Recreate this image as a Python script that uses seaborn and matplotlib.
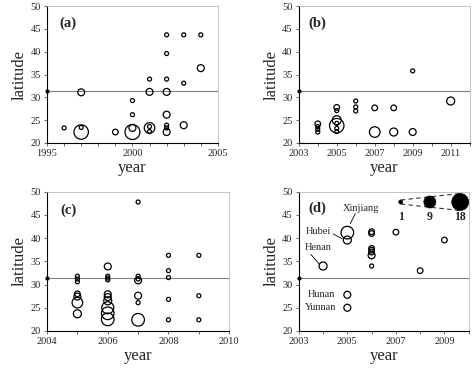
import numpy as np
import pandas as pd
import matplotlib
matplotlib.use("Agg")
import matplotlib.pyplot as plt
import seaborn as sns

# ---- data: (year, latitude, number of cases) per panel ----
a_year = [1996, 1997, 1997, 1997, 1999, 2000, 2000, 2000, 2000,
          2001, 2001, 2001, 2001, 2001,
          2002, 2002, 2002, 2002, 2002, 2002, 2002, 2002,
          2003, 2003, 2003, 2004, 2004]
a_lat = [23.3, 31.1, 23.4, 22.4, 22.4, 29.3, 26.2, 23.3, 22.4,
         34.0, 31.2, 23.3, 23.6, 22.5,
         43.7, 39.6, 34.0, 31.2, 26.2, 23.9, 23.3, 22.4,
         43.7, 33.1, 23.9, 43.7, 36.4]
a_n = [1, 3, 1, 13, 2, 1, 1, 3, 14,
       1, 3, 7, 1, 1,
       1, 1, 1, 3, 3, 1, 1, 3,
       1, 1, 3, 1, 3]

b_year = [2004, 2004, 2004, 2004,
          2005, 2005, 2005, 2005, 2005, 2005, 2005,
          2006, 2006, 2006, 2007, 2007, 2008, 2008, 2009, 2009, 2011]
b_lat = [24.2, 23.6, 23.0, 22.4,
         27.8, 27.1, 25.0, 23.8, 24.3, 23.2, 22.5,
         29.2, 27.9, 27.0, 27.7, 22.4, 27.7, 22.4, 35.8, 22.4, 29.2]
b_n = [2, 1, 1, 1,
       2, 1, 5, 13, 1, 1, 1,
       1, 1, 1, 2, 7, 2, 4, 1, 3, 4]

c_year = [2005, 2005, 2005, 2005, 2005, 2005, 2005,
          2006, 2006, 2006, 2006, 2006, 2006, 2006, 2006, 2006, 2006,
          2007, 2007, 2007, 2007, 2007, 2007, 2007,
          2008, 2008, 2008, 2008, 2008, 2009, 2009, 2009]
c_lat = [31.8, 31.2, 30.6, 28.0, 27.4, 26.1, 23.7,
         33.9, 31.8, 31.4, 31.0, 27.9, 27.3, 26.5, 25.0, 23.8, 22.5,
         47.8, 31.8, 31.2, 30.9, 27.6, 26.1, 22.4,
         36.3, 33.0, 31.5, 26.8, 22.4, 36.3, 27.6, 22.4]
c_n = [1, 1, 1, 2, 3, 7, 4,
       3, 1, 1, 1, 3, 3, 4, 9, 10, 10,
       1, 1, 1, 3, 3, 1, 10,
       1, 1, 1, 1, 1, 1, 1, 1]

d_year = [2004, 2005, 2005, 2005, 2005,
          2006, 2006, 2006, 2006, 2006, 2006, 2006, 2007, 2008, 2009]
d_lat = [34.0, 41.2, 39.6, 27.8, 25.0,
         41.4, 41.0, 37.8, 37.4, 37.0, 36.3, 34.0, 41.3, 33.0, 39.6]
d_n = [4, 10, 4, 3, 3,
       2, 2, 2, 2, 2, 3, 1, 2, 2, 2]

# province labels in (d): text, text position, alignment, leader line
prov_names = ["Xinjiang", "Hubei", "Henan", "Hunan", "Yunnan"]
prov_text_x = [2005.55, 2003.8, 2003.8, 2004.5, 2004.55]
prov_text_y = [46.4, 41.5, 37.9, 27.9, 25.1]
prov_ha = ["center", "center", "center", "right", "right"]
prov_line = [((2005.33, 45.3), (2005.12, 43.1)),
             ((2004.42, 40.9), (2004.78, 39.9)),
             ((2003.5, 36.5), (2003.85, 34.4)),
             None, None]

# size key in (d)
key_n = [1, 9, 18]
key_year = [2007.2, 2008.4, 2009.65]
key_lat = 47.8
key_text_lat = 44.6

ref_lat = 31.5   # horizontal reference line

panels = [
    dict(tag="(a)", year=a_year, lat=a_lat, n=a_n, xlim=(1995, 2005), step=5,
         rect=[0.0996, 0.6146, 0.362, 0.369], tagpos=(0.075, 0.875)),
    dict(tag="(b)", year=b_year, lat=b_lat, n=b_n, xlim=(2003, 2012), step=2,
         rect=[0.633, 0.6146, 0.362, 0.369], tagpos=(0.057, 0.875)),
    dict(tag="(c)", year=c_year, lat=c_lat, n=c_n, xlim=(2004, 2010), step=2,
         rect=[0.0996, 0.108, 0.386, 0.375], tagpos=(0.072, 0.87)),
    dict(tag="(d)", year=d_year, lat=d_lat, n=d_n, xlim=(2003, 2010), step=2,
         rect=[0.633, 0.108, 0.360, 0.375], tagpos=(0.057, 0.885)),
]

sns.set_style("ticks")
plt.rcParams['font.family'] = ['Liberation Serif', 'DejaVu Serif']

DPI = 100
PX = 72.0 / DPI            # points per pixel
R1 = 2.0                   # radius (px) of a single-case bubble


def area(n):
    return (2 * R1 * np.sqrt(n) * PX) ** 2


fig = plt.figure(figsize=(4.72, 3.71), dpi=DPI)

for p in panels:
    ax = fig.add_axes(p["rect"])
    df = pd.DataFrame({"year": p["year"], "latitude": p["lat"], "n": p["n"]})
    sns.scatterplot(data=df, x="year", y="latitude", size="n",
                    sizes=(area(1), area(18)), size_norm=(1, 18),
                    facecolor="none", edgecolor="black", linewidth=0.9,
                    legend=False, ax=ax, zorder=3)

    x0, x1 = p["xlim"]
    ax.axhline(ref_lat, color="#808080", lw=0.8, zorder=1)
    ax.plot([x0], [ref_lat], "o", color="black", ms=2, clip_on=False, zorder=4)

    ax.set_xlim(x0, x1)
    ax.set_ylim(20, 50)
    ax.set_xticks(np.arange(x0, x1 + 1, p["step"]))
    ax.set_xticks(np.arange(x0, x1 + 1, 1), minor=True)
    ax.set_yticks(np.arange(20, 51, 5))
    ax.tick_params(axis="both", which="both", direction="out", length=2.5,
                   width=0.6, labelsize=7.5, pad=2, color="#555555")
    ax.set_xlabel("year", fontsize=12, labelpad=1)
    ax.set_ylabel("latitude", fontsize=12, labelpad=2)

    for s in ["left", "bottom"]:
        ax.spines[s].set_color("black")
        ax.spines[s].set_linewidth(0.8)
    for s in ["top", "right"]:
        ax.spines[s].set_color("#bbbbbb")
        ax.spines[s].set_linewidth(0.6)

    ax.text(p["tagpos"][0], p["tagpos"][1], p["tag"], transform=ax.transAxes,
            fontsize=10.5, fontweight="bold", va="center", ha="left")

    if p["tag"] == "(d)":
        for name, tx, ty, ha, ln in zip(prov_names, prov_text_x, prov_text_y,
                                        prov_ha, prov_line):
            ax.text(tx, ty, name, fontsize=7.5, ha=ha, va="center")
            if ln is not None:
                ax.plot([ln[0][0], ln[1][0]], [ln[0][1], ln[1][1]],
                        color="black", lw=0.6)

        kdf = pd.DataFrame({"year": key_year, "latitude": [key_lat] * 3, "n": key_n})
        sns.scatterplot(data=kdf, x="year", y="latitude", size="n",
                        sizes=(area(1), area(18)), size_norm=(1, 18),
                        color="black", edgecolor="black", linewidth=0.5,
                        legend=False, ax=ax, zorder=5, clip_on=False)
        # dashed cone from smallest to largest key bubble
        ypx = ax.get_window_extent().height / 30.0   # px per degree
        r_small = R1 * np.sqrt(key_n[0]) / ypx
        r_big = R1 * np.sqrt(key_n[-1]) / ypx
        for sgn in (1, -1):
            ax.plot([key_year[0], key_year[-1]],
                    [key_lat + sgn * r_small, key_lat + sgn * r_big],
                    color="#333333", lw=0.8, ls=(0, (4, 3)), zorder=4, clip_on=False)
        for kx, kn in zip(key_year, key_n):
            ax.text(kx, key_text_lat, str(kn), fontsize=8.5, fontweight="bold",
                    ha="center", va="center")

fig.savefig("out.png", dpi=DPI, facecolor="white")
